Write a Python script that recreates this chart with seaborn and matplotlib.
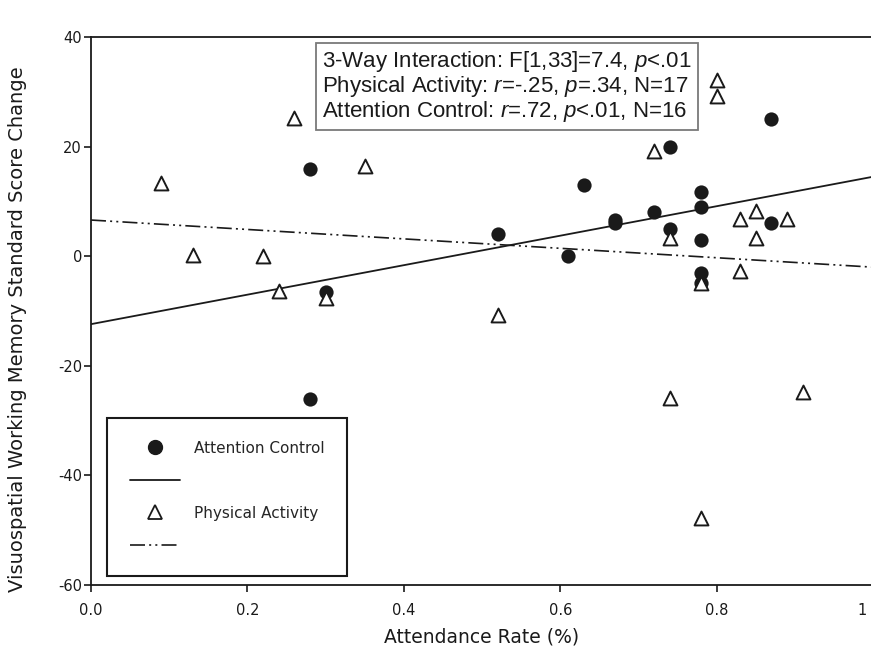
import numpy as np
import pandas as pd
import seaborn as sns
import matplotlib.pyplot as plt
from matplotlib.lines import Line2D

# Attention Control group (filled circles)
ac_attendance = [0.28, 0.28, 0.30, 0.52, 0.61, 0.63, 0.67, 0.67, 0.72, 0.74,
                 0.74, 0.78, 0.78, 0.78, 0.78, 0.78, 0.87, 0.87]
ac_change = [16.0, -26.0, -6.5, 4.0, 0.0, 13.0, 6.6, 6.0, 8.0, 20.0,
             5.0, 11.8, 9.0, 3.0, -3.0, -4.8, 25.0, 6.0]

# Physical Activity group (open triangles)
pa_attendance = [0.09, 0.13, 0.22, 0.24, 0.26, 0.30, 0.35, 0.52, 0.72, 0.74,
                 0.74, 0.78, 0.78, 0.80, 0.80, 0.83, 0.83, 0.85, 0.85, 0.89, 0.91]
pa_change = [13.3, 0.2, 0.1, -6.4, 25.3, -7.6, 16.4, -10.8, 19.2, 3.4,
             -25.9, -4.9, -47.8, 32.2, 29.2, 6.7, -2.7, 8.2, 3.3, 6.7, -24.8]

# regression lines (value at x=0 and x=1)
fit_x = [0.0, 1.0]
ac_fit = [-12.4, 14.5]
pa_fit = [6.6, -2.0]

x_ticks = [0.0, 0.2, 0.4, 0.6, 0.8, 1.0]
x_tick_labels = ["0.0", "0.2", "0.4", "0.6", "0.8", "1"]
y_ticks = [40, 20, 0, -20, -40, -60]

stats_lines = [
    "3-Way Interaction: F[1,33]=7.4, $p$<.01",
    "Physical Activity: $r$=-.25, $p$=.34, N=17",
    "Attention Control: $r$=.72, $p$<.01, N=16",
]

ac_df = pd.DataFrame({"attendance": ac_attendance, "change": ac_change})
pa_df = pd.DataFrame({"attendance": pa_attendance, "change": pa_change})
fit_df = pd.DataFrame({"x": fit_x, "ac": ac_fit, "pa": pa_fit})

sns.set_style("ticks")
plt.rcParams["font.family"] = ["DejaVu Sans"]
plt.rcParams["axes.unicode_minus"] = False
plt.rcParams["mathtext.fontset"] = "custom"
plt.rcParams["mathtext.rm"] = "Liberation Sans"
plt.rcParams["mathtext.it"] = "Liberation Sans:italic"

ink = "#1a1a1a"
dashdotdot = (0, (9, 2.5, 1.2, 2.5, 1.2, 2.5))

fig = plt.figure(figsize=(8.71, 6.6), dpi=100)
ax = fig.add_axes([91 / 871, 75 / 660, 782 / 871, 548 / 660])

# fitted lines
sns.lineplot(data=fit_df, x="x", y="ac", ax=ax, color=ink, lw=1.3, zorder=2)
sns.lineplot(data=fit_df, x="x", y="pa", ax=ax, color=ink, lw=1.2,
             linestyle=dashdotdot, zorder=2)

# points: circles first, triangles on top
sns.scatterplot(data=ac_df, x="attendance", y="change", ax=ax, marker="o",
                s=105, color=ink, edgecolor=ink, linewidth=0, zorder=3)
sns.scatterplot(data=pa_df, x="attendance", y="change", ax=ax, marker="^",
                s=100, facecolor="white", edgecolor=ink, linewidth=1.4, zorder=4)

ax.set_xlim(0, 1)
ax.set_ylim(-60, 40)
ax.set_xticks(x_ticks)
# last label sits just inside the figure edge, drawn separately below
ax.set_xticklabels(x_tick_labels[:-1] + [""])
ax.set_yticks(y_ticks)
ax.tick_params(axis="both", direction="out", length=5, width=1.2,
               labelsize=10.5, colors=ink)
ax.tick_params(axis="x", pad=8)
ax.tick_params(axis="y", pad=1.5)
ax.annotate(x_tick_labels[-1], xy=(1, 0), xycoords="axes fraction",
            xytext=(-8, -13), textcoords="offset points", ha="center", va="top",
            fontsize=10.5, color=ink)

for side in ["left", "bottom", "top"]:
    ax.spines[side].set_linewidth(1.3)
    ax.spines[side].set_color(ink)
ax.spines["right"].set_visible(False)

ax.set_xlabel("Attendance Rate (%)", fontsize=13.5, labelpad=7, color=ink)
ax.set_ylabel("Visuospatial Working Memory Standard Score Change",
              fontsize=14, color=ink)
ax.yaxis.set_label_coords(-0.082, 0.467)

# statistics box
ax.text(0.296, 0.978, "\n".join(stats_lines), transform=ax.transAxes,
        ha="left", va="top", fontsize=16, family="Liberation Sans",
        linespacing=1.0, color=ink, zorder=5,
        bbox=dict(boxstyle="square,pad=0.28", fc="white", ec="#7a7a7a", lw=1.3))

# SigmaPlot style legend: markers and lines as separate rows
handles = [
    Line2D([], [], marker="o", ls="", color=ink, markersize=10),
    Line2D([], [], color=ink, lw=1.3),
    Line2D([], [], marker="^", ls="", mfc="white", mec=ink, mew=1.3, markersize=10),
    Line2D([], [], color=ink, lw=1.2, ls=dashdotdot),
]
labels = ["Attention Control", "", "Physical Activity", ""]
leg = ax.legend(handles, labels, loc="lower left", bbox_to_anchor=(0.02, 0.016),
                borderaxespad=0, fontsize=11, frameon=True, fancybox=False,
                framealpha=1, edgecolor=ink, borderpad=1.5, labelspacing=1.15,
                handlelength=3.3, handletextpad=0.9)
leg.get_frame().set_linewidth(1.5)

plt.savefig("out.png", dpi=100)
plt.close()
